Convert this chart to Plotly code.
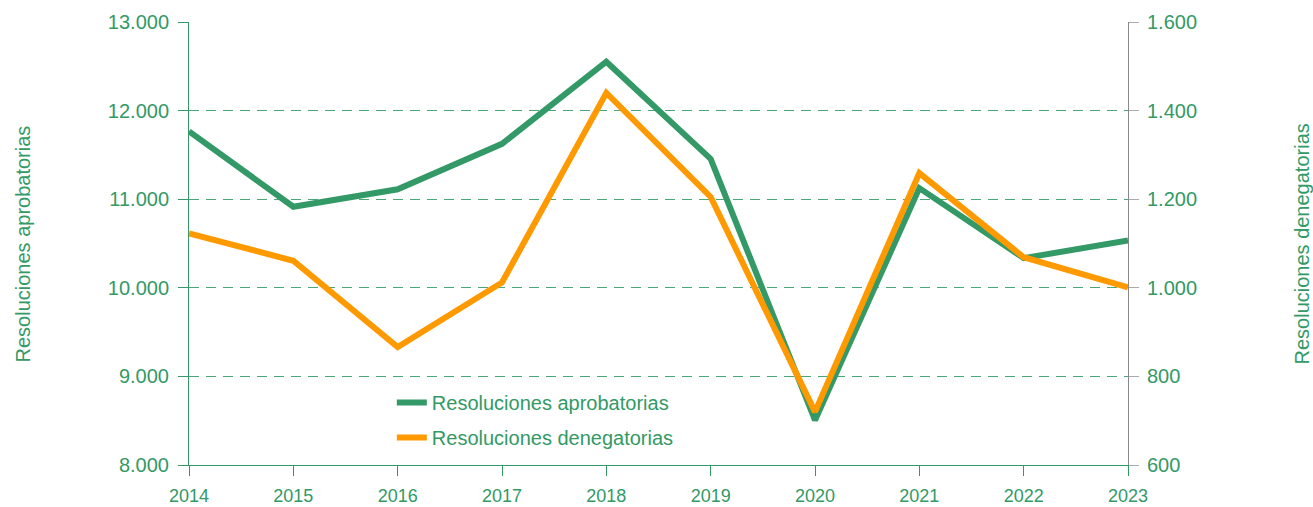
import plotly.graph_objects as go

years = [2014, 2015, 2016, 2017, 2018, 2019, 2020, 2021, 2022, 2023]
aprobatorias = [11765, 10915, 11112, 11625, 12552, 11455, 8505, 11125, 10335, 10533]
denegatorias = [1123, 1061, 866, 1012, 1440, 1205, 720, 1259, 1069, 1001]

GREEN = "#339966"
ORANGE = "#FF9900"
GRID = "#4aa577"
FONT = "Liberation Sans, Arial, sans-serif"

fig = go.Figure()
fig.add_trace(go.Scatter(x=years, y=aprobatorias, mode="lines", name="Resoluciones aprobatorias",
                         legendgroup="a", line=dict(color=GREEN, width=6), yaxis="y"))
fig.add_trace(go.Scatter(x=years, y=denegatorias, mode="lines", name="Resoluciones denegatorias",
                         legendgroup="d", line=dict(color=ORANGE, width=6), yaxis="y2"))

fig.update_layout(
    width=1313, height=507,
    margin=dict(l=189, r=185, t=22, b=42, autoexpand=False),
    paper_bgcolor="white", plot_bgcolor="white",
    separators=",.",
    font=dict(family=FONT, color=GREEN, size=20),
    showlegend=True,
    legend=dict(x=0.216, y=0.185, xanchor="left", yanchor="top",
                font=dict(size=20, color=GREEN), bgcolor="rgba(0,0,0,0)",
                traceorder="grouped", tracegroupgap=6),
    xaxis=dict(range=[2014, 2023], tickmode="array", tickvals=years, ticktext=[str(y) for y in years],
               showgrid=False, showline=True, linecolor=GREEN, linewidth=1,
               ticks="outside", ticklen=10, tickcolor=GREEN, tickfont=dict(size=18, color=GREEN),
               ticklabelstandoff=4, zeroline=False, automargin=False),
    yaxis=dict(range=[8000, 13000], dtick=1000, tickformat=",d",
               showgrid=True, gridcolor=GRID, griddash="10px,7px", gridwidth=1,
               showline=True, linecolor=GREEN, linewidth=1,
               ticks="outside", ticklen=10, tickcolor=GREEN, tickfont=dict(size=20, color=GREEN),
               ticklabelstandoff=5, zeroline=False, automargin=False),
    yaxis2=dict(range=[600, 1600], dtick=200, tickformat=",d", overlaying="y", side="right",
                showgrid=False, showline=True, linecolor="#888888", linewidth=1,
                ticks="outside", ticklen=10, tickcolor="#aaaaaa", tickfont=dict(size=20, color=GREEN),
                ticklabelstandoff=4, zeroline=False, automargin=False),
    annotations=[
        dict(text="Resoluciones aprobatorias", xref="paper", yref="paper", x=-0.1768, y=0.5,
             xanchor="center", yanchor="middle", textangle=-90, showarrow=False,
             font=dict(size=20, color=GREEN)),
        dict(text="Resoluciones denegatorias", xref="paper", yref="paper", x=1.1853, y=0.5,
             xanchor="center", yanchor="middle", textangle=-90, showarrow=False,
             font=dict(size=20, color=GREEN)),
    ],
)

fig.write_html("out.html", config={"displayModeBar": False},
               post_script="document.body.style.margin='0';document.body.style.overflow='hidden';")
